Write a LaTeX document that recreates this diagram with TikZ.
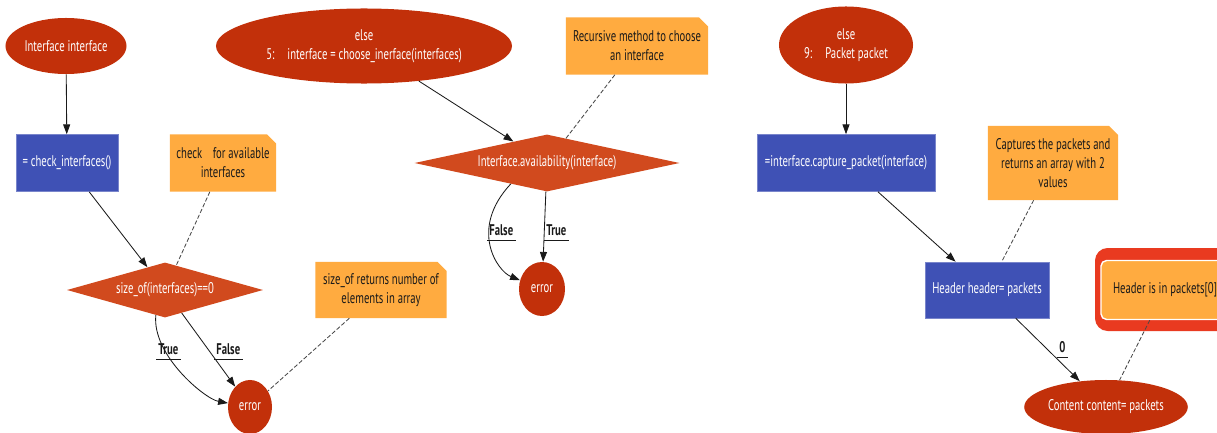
\documentclass[tikz,border=0pt]{standalone}
\usepackage{fontspec}
\setmainfont{PT Sans}[FakeStretch=0.69]
\usetikzlibrary{shapes.geometric,shapes.misc,arrows.meta}
\definecolor{ink}{HTML}{1A1A1A}
\definecolor{brick}{HTML}{C2300A}
\definecolor{rust}{HTML}{D14A1E}
\definecolor{indigo}{HTML}{3F51B5}
\definecolor{amber}{HTML}{FFAB40}
\definecolor{flame}{HTML}{E93A20}

\begin{document}
\begin{tikzpicture}[x=0.025cm,y=-0.025cm,font=\fontsize{11}{13.5}\selectfont,
  term/.style={ellipse,fill=brick,text=white,inner sep=0pt,align=center},
  act/.style={rectangle,fill=indigo,draw=indigo!70!white,text=white,inner sep=0pt,align=center},
  test/.style={diamond,fill=rust,text=white,inner sep=0pt,aspect=3.5},
  memo/.style={chamfered rectangle,chamfered rectangle corners=north east,chamfered rectangle xsep=3pt,fill=amber,text=ink,inner sep=0pt,align=center},
  flow/.style={draw=ink,line width=0.6pt,-{Triangle[length=7pt,width=5pt]}},
  memolink/.style={draw=ink!80,line width=0.6pt,dash pattern=on 3pt off 1.5pt},
  elab/.style={anchor=south west,inner xsep=1.5pt,inner ysep=3pt,font=\fontsize{11}{13.5}\selectfont\bfseries,text=ink}]
\useasboundingbox (0,0) rectangle (1217,433);
\node[term,minimum width=3.025cm,minimum height=1.4cm] (t1) at (66,46) {Interface interface};
\node[act,minimum width=2.55cm,minimum height=1.425cm] (a1) at (67,163) {= check\_interfaces()};
\node[memo,minimum width=2.65cm,minimum height=1.425cm] (m1) at (223,163) {check\hspace{0.5em} for available\\interfaces};
\node[test,minimum width=4.9cm,minimum height=1.375cm] (q1) at (165,290) {size\_of(interfaces)==0};
\node[term,minimum width=1.1cm,minimum height=1.35cm] (e1) at (250,407) {error};
\node[memo,minimum width=3.275cm,minimum height=1.4cm] (m2) at (381,290) {size\_of returns number of\\elements in array};
\node[term,minimum width=7.4cm,minimum height=1.875cm] (t2) at (364,46) {else\\5:\hspace{0.6em} interface = choose\_inerface(interfaces)};
\node[memo,minimum width=3.55cm,minimum height=1.425cm] (m3) at (637,46) {Recursive method to choose\\an interface};
\node[test,minimum width=6.625cm,minimum height=1.425cm] (q2) at (547,163) {Interface.availability(interface)};
\node[term,minimum width=1.15cm,minimum height=1.35cm] (e2) at (542,289) {error};
\node[term,minimum width=3.35cm,minimum height=1.925cm] (t3) at (846,45) {else\\9:\hspace{0.6em} Packet packet};
\node[act,minimum width=4.45cm,minimum height=1.425cm] (a2) at (846,163) {=interface.capture\_packet(interface)};
\node[memo,minimum width=3.25cm,minimum height=1.85cm] (m4) at (1053,163) {Captures the packets and\\returns an array with 2\\values};
\node[act,minimum width=3.1cm,minimum height=1.4cm] (a3) at (987,290) {Header header= packets};
\fill[flame,rounded corners=9pt] (1095,248) rectangle (1236,331);
\node[rectangle,rounded corners=4pt,fill=amber,draw=white,line width=1pt,text=ink,minimum width=3.2cm,minimum height=1.475cm] (m5) at (1165,290) {Header is in packets[0]};
\node[term,minimum width=4.05cm,minimum height=1.35cm] (t4) at (1106,407) {Content content= packets};
\draw[flow] (t1) -- (a1);
\draw[flow] (a1) -- (q1);
\draw[flow] (q1) -- (e1);
\draw[flow] (q1.250) .. controls +(-4,40) and +(-45,-8) .. (e1);
\draw[flow] (t2) -- (q2);
\draw[flow] (q2) -- (e2);
\draw[flow] (q2.210) .. controls +(-42,45) and +(-45,-18) .. (e2);
\draw[flow] (t3) -- (a2);
\draw[flow] (a2) -- (a3);
\draw[flow] (a3) -- (t4);
\foreach \a/\b in {m1/q1,m2/e1,m3/q2,m4/a3,m5/t4}
  \draw[memolink] (\a) -- (\b);
\foreach \n/\x/\y/\t in {l1/156/359/True,l2/214/359/False,l3/487/240/False,l4/544/240/True,l5/1057/357/0}{
  \node[elab] (\n) at (\x,\y){\t};
  \draw[ink,line width=0.6pt] (\n.south west) -- (\n.south east);}
\end{tikzpicture}
\end{document}
